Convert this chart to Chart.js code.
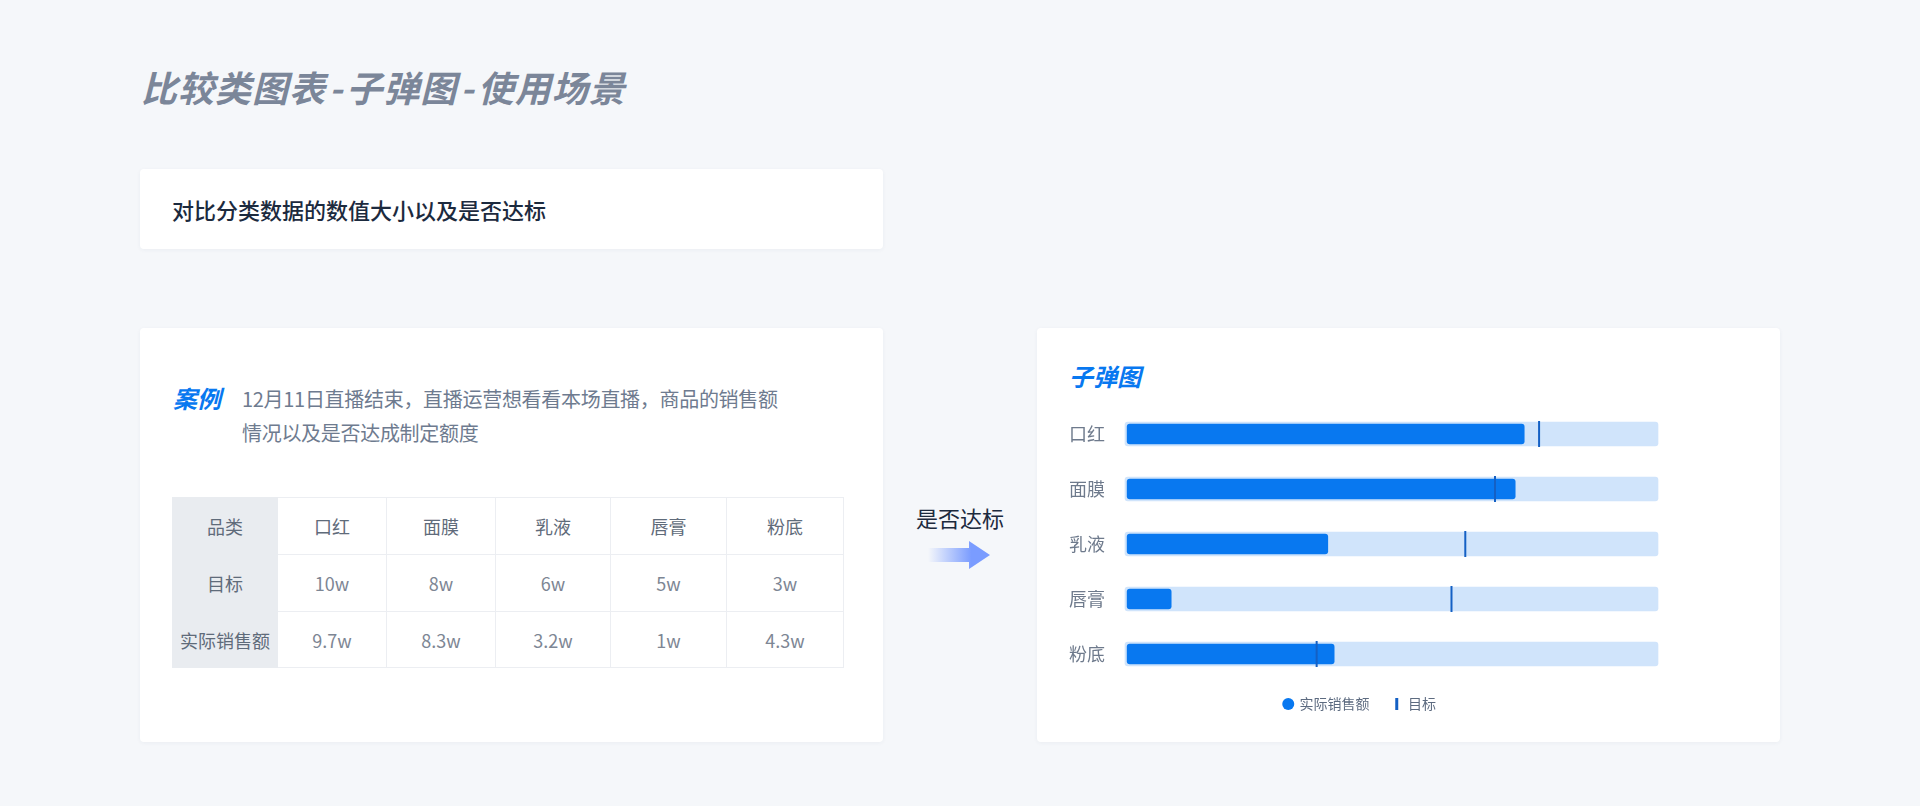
<!DOCTYPE html>
<html lang="zh-CN">
<head>
<meta charset="utf-8">
<title>比较类图表-子弹图-使用场景</title>
<script src="https://cdn.jsdelivr.net/npm/chart.js@4.4.1/dist/chart.umd.min.js"></script>
<style>
  html, body { margin: 0; padding: 0; }
  body {
    width: 1920px; height: 806px; position: relative; overflow: hidden;
    background: #f5f7fa;
    font-family: "Noto Sans CJK SC", "Noto Sans", sans-serif;
  }
  .title {
    position: absolute; left: 141px; top: 64px;
    font-size: 36px; line-height: 44px; font-weight: 700; font-style: italic;
    color: #7b8699; letter-spacing: 1px; white-space: nowrap;
  }
  .title .dash { padding: 0 3px; }
  .card {
    position: absolute; background: #fff; border-radius: 4px;
    box-shadow: 0 1px 4px rgba(40, 60, 90, 0.05);
  }
  .lead {
    position: absolute; left: 32px; top: 25px;
    font-size: 22px; line-height: 30px; font-weight: 500; color: #1c2a3e; white-space: nowrap;
  }
  .case-tag {
    position: absolute; left: 33px; top: 55px;
    font-size: 24px; line-height: 30px; font-weight: 700; font-style: italic; color: #0878f0;
  }
  .case-text {
    position: absolute; left: 102px; top: 54px;
    font-size: 20px; line-height: 34px; color: #6e7b8f; letter-spacing: -0.3px; white-space: nowrap;
  }
  #dataTable {
    position: absolute; left: 32px; top: 169px;
    border-collapse: collapse; table-layout: fixed;
    font-size: 18px; text-align: center;
  }
  #dataTable td {
    padding: 0; border: 1px solid #eceef2; color: #7d8694;
  }
  #dataTable td.head { background: #e9ecf0; color: #5f6b7a; border-color: #e9ecf0; }
  #dataTable tr.cat td { color: #5f6b7a; }
  .chart-title {
    position: absolute; left: 32px; top: 33px;
    font-size: 24px; line-height: 30px; font-weight: 700; font-style: italic; color: #0878f0;
  }
  .verdict {
    position: absolute; left: 916px; top: 502px;
    font-size: 22px; line-height: 30px; color: #1c2a3e; white-space: nowrap;
  }
  .arrow { position: absolute; left: 928px; top: 541px; }
  #bulletChart { position: absolute; left: 1062px; top: 400px; }
</style>
</head>
<body>
  <div class="title">比较类图表<span class="dash">-</span>子弹图<span class="dash">-</span>使用场景</div>

  <div class="card" style="left:140px; top:169px; width:743px; height:80px;">
    <div class="lead">对比分类数据的数值大小以及是否达标</div>
  </div>

  <div class="card" style="left:140px; top:328px; width:743px; height:414px;">
    <div class="case-tag">案例</div>
    <div class="case-text">12月11日直播结束，直播运营想看看本场直播，商品的销售额<br>情况以及是否达成制定额度</div>
    <table id="dataTable"></table>
  </div>

  <div class="verdict">是否达标</div>
  <svg class="arrow" width="62" height="28" viewBox="0 0 62 28">
    <defs>
      <linearGradient id="arrowFill" x1="0" y1="0" x2="1" y2="0">
        <stop offset="0" stop-color="#7a9cff" stop-opacity="0"/>
        <stop offset="0.7" stop-color="#7a9cff" stop-opacity="1"/>
      </linearGradient>
    </defs>
    <path d="M0 7 H41 V0 L62 14 L41 28 V21 H0 Z" fill="url(#arrowFill)"/>
  </svg>

  <div class="card" style="left:1037px; top:328px; width:743px; height:414px;">
    <div class="chart-title">子弹图</div>
  </div>
  <canvas id="bulletChart" width="604" height="321"></canvas>

<script>
// categories and the values shown in the table
const categories = ['口红', '面膜', '乳液', '唇膏', '粉底'];
const targetText = ['10w', '8w', '6w', '5w', '3w'];
const actualText = ['9.7w', '8.3w', '3.2w', '1w', '4.3w'];

// bar / marker positions as drawn in the bullet chart (percent of the track)
const actualPct = [74.8, 73.1, 37.8, 8.3, 39.0];
const targetPct = [77.6, 69.3, 63.7, 61.1, 35.7];
const trackMax = 100;

const fontFamily = '"Noto Sans CJK SC", "Noto Sans", sans-serif';

// build the table
(function buildTable() {
    const table = document.getElementById('dataTable');
    const widths = [105, 109, 109, 115, 116, 117];
    const heights = [57, 57, 56];
    const colgroup = document.createElement('colgroup');
    widths.forEach(w => {
        const col = document.createElement('col');
        col.style.width = w + 'px';
        colgroup.appendChild(col);
    });
    table.appendChild(colgroup);

    const rows = [
        ['品类', categories, 'cat'],
        ['目标', targetText, ''],
        ['实际销售额', actualText, '']
    ];
    rows.forEach((r, i) => {
        const tr = document.createElement('tr');
        tr.className = r[2];
        tr.style.height = heights[i] + 'px';
        const th = document.createElement('td');
        th.className = 'head';
        th.textContent = r[0];
        tr.appendChild(th);
        r[1].forEach(v => {
            const td = document.createElement('td');
            td.textContent = v;
            tr.appendChild(td);
        });
        table.appendChild(tr);
    });
})();

const ctx = document.getElementById('bulletChart').getContext('2d');
new Chart(ctx, {
    type: 'bar',
    data: {
        labels: categories,
        datasets: [
            {
                type: 'bar',
                label: '区间',
                data: categories.map(() => trackMax),
                base: -0.4,
                backgroundColor: '#d0e4fb',
                barThickness: 24,
                borderRadius: 3,
                borderSkipped: false,
                grouped: false,
                clip: false,
                order: 3
            },
            {
                type: 'bar',
                label: '实际销售额',
                data: actualPct,
                backgroundColor: '#0878f0',
                barThickness: 20,
                borderRadius: 3,
                borderSkipped: false,
                grouped: false,
                clip: false,
                order: 2
            },
            {
                type: 'line',
                label: '目标',
                data: targetPct,
                indexAxis: 'y',
                showLine: false,
                pointStyle: 'line',
                rotation: 90,
                pointRadius: 13,
                pointHoverRadius: 13,
                borderColor: '#1460c4',
                backgroundColor: '#1460c4',
                pointBorderWidth: 2,
                borderWidth: 2,
                clip: false,
                order: 1
            }
        ]
    },
    options: {
        indexAxis: 'y',
        responsive: false,
        animation: false,
        layout: { autoPadding: false, padding: { top: 34, right: 8, bottom: 0, left: 0 } },
        scales: {
            x: {
                min: -0.4,
                max: trackMax,
                ticks: { display: false },
                grid: { display: false, drawTicks: false },
                border: { display: false },
                // empty strip between the last row and the legend
                afterFit(scale) { scale.height = 20; }
            },
            y: {
                offset: false,
                grid: { display: false, drawTicks: false },
                border: { display: false },
                ticks: { padding: 20, color: '#6e7a8c', font: { size: 18, family: fontFamily } },
                afterFit(scale) {
                    scale.width = 63;
                    scale.paddingTop = 0;
                    scale.paddingBottom = 0;
                }
            }
        },
        plugins: {
            tooltip: { enabled: false },
            legend: {
                position: 'bottom',
                labels: {
                    usePointStyle: true,
                    boxWidth: 8.5,
                    boxHeight: 8.5,
                    padding: 23,
                    color: '#5d6b80',
                    font: { size: 14, family: fontFamily },
                    generateLabels(chart) {
                        const items = Chart.defaults.plugins.legend.labels.generateLabels(chart);
                        return items
                            .filter(item => item.datasetIndex !== 0)
                            .sort((a, b) => a.datasetIndex - b.datasetIndex)
                            .map(item => {
                                if (item.datasetIndex === 2) item.lineWidth = 3;
                                return item;
                            });
                    }
                }
            }
        }
    }
});
</script>
</body>
</html>
